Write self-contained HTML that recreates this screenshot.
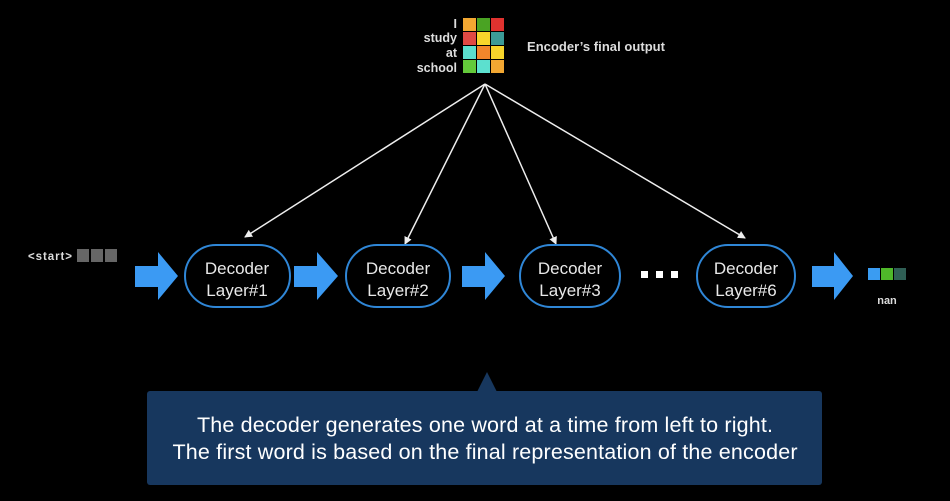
<!DOCTYPE html>
<html><head><style>body{margin:0;background:#000;}svg{display:block}</style></head><body>
<svg width="950" height="501" viewBox="0 0 950 501" xmlns="http://www.w3.org/2000/svg" font-family="Liberation Sans, sans-serif">
<rect width="950" height="501" fill="#000"/>
<g font-size="12.5" font-weight="bold" fill="#ddd" text-anchor="end">
<text x="457" y="28">I</text><text x="457" y="42">study</text><text x="457" y="57">at</text><text x="457" y="72">school</text>
</g>
<g>
<rect x="463" y="18" width="13" height="13" fill="#f2a732"/><rect x="477" y="18" width="13" height="13" fill="#4aa323"/><rect x="491" y="18" width="13" height="13" fill="#e0322f"/>
<rect x="463" y="32" width="13" height="13" fill="#e04a44"/><rect x="477" y="32" width="13" height="13" fill="#f7d52b"/><rect x="491" y="32" width="13" height="13" fill="#3c9a97"/>
<rect x="463" y="46" width="13" height="13" fill="#5ce0cf"/><rect x="477" y="46" width="13" height="13" fill="#f2862b"/><rect x="491" y="46" width="13" height="13" fill="#f7d52b"/>
<rect x="463" y="60" width="13" height="13" fill="#63c93a"/><rect x="477" y="60" width="13" height="13" fill="#5ce0cf"/><rect x="491" y="60" width="13" height="13" fill="#f2a732"/>
</g>
<text x="527" y="51" font-size="13" font-weight="bold" fill="#ddd" textLength="138">Encoder’s final output</text>
<defs><marker id="a" markerWidth="8" markerHeight="8" refX="7" refY="4" orient="auto" markerUnits="userSpaceOnUse"><path d="M0,0 L8,4 L0,8 Z" fill="#eee"/></marker></defs>
<g stroke="#eee" stroke-width="1.5" marker-end="url(#a)">
<line x1="485" y1="84" x2="245" y2="237"/><line x1="485" y1="84" x2="405" y2="244"/><line x1="485" y1="84" x2="556" y2="244"/><line x1="485" y1="84" x2="745" y2="238"/>
</g>
<text x="28" y="260" font-size="11.5" font-weight="bold" fill="#ddd" textLength="44">&lt;start&gt;</text>
<rect x="77" y="249" width="12" height="13" fill="#666"/><rect x="91" y="249" width="12" height="13" fill="#666"/><rect x="105" y="249" width="12" height="13" fill="#666"/>
<g fill="#3b9af3">
<path d="M135,266 H158 V252 L178,276 L158,300 V287 H135 Z"/>
<path d="M294,266 H317 V252 L338,276 L317,300 V287 H294 Z"/>
<path d="M462,266 H485 V252 L505,276 L485,300 V287 H462 Z"/>
<path d="M812,266 H834 V252 L853,276 L834,300 V287 H812 Z"/>
</g>
<g fill="#000" stroke="#2f86d6" stroke-width="2">
<rect x="185" y="245" width="105" height="62" rx="31"/>
<rect x="346" y="245" width="104" height="62" rx="31"/>
<rect x="520" y="245" width="100" height="62" rx="31"/>
<rect x="697" y="245" width="98" height="62" rx="31"/>
</g>
<g font-size="17" fill="#e8e8e8" text-anchor="middle">
<text x="237" y="274">Decoder</text><text x="237" y="296">Layer#1</text>
<text x="398" y="274">Decoder</text><text x="398" y="296">Layer#2</text>
<text x="570" y="274">Decoder</text><text x="570" y="296">Layer#3</text>
<text x="746" y="274">Decoder</text><text x="746" y="296">Layer#6</text>
</g>
<g fill="#fff"><rect x="641" y="271" width="7" height="7"/><rect x="656" y="271" width="7" height="7"/><rect x="671" y="271" width="7" height="7"/></g>
<rect x="868" y="268" width="12" height="12" fill="#3a9cf2"/><rect x="881" y="268" width="12" height="12" fill="#4fb82a"/><rect x="894" y="268" width="12" height="12" fill="#2f5f55"/>
<text x="887" y="304" font-size="11" font-weight="bold" fill="#ddd" text-anchor="middle">nan</text>
<path d="M487,372 L497,392 L477,392 Z" fill="#17375e"/>
<rect x="147" y="391" width="675" height="94" rx="3" fill="#17375e"/>
<g font-size="21.5" fill="#fff" text-anchor="middle">
<text x="485" y="432" textLength="576">The decoder generates one word at a time from left to right.</text>
<text x="485" y="459" textLength="625">The first word is based on the final representation of the encoder</text>
</g>
</svg>
</body></html>
